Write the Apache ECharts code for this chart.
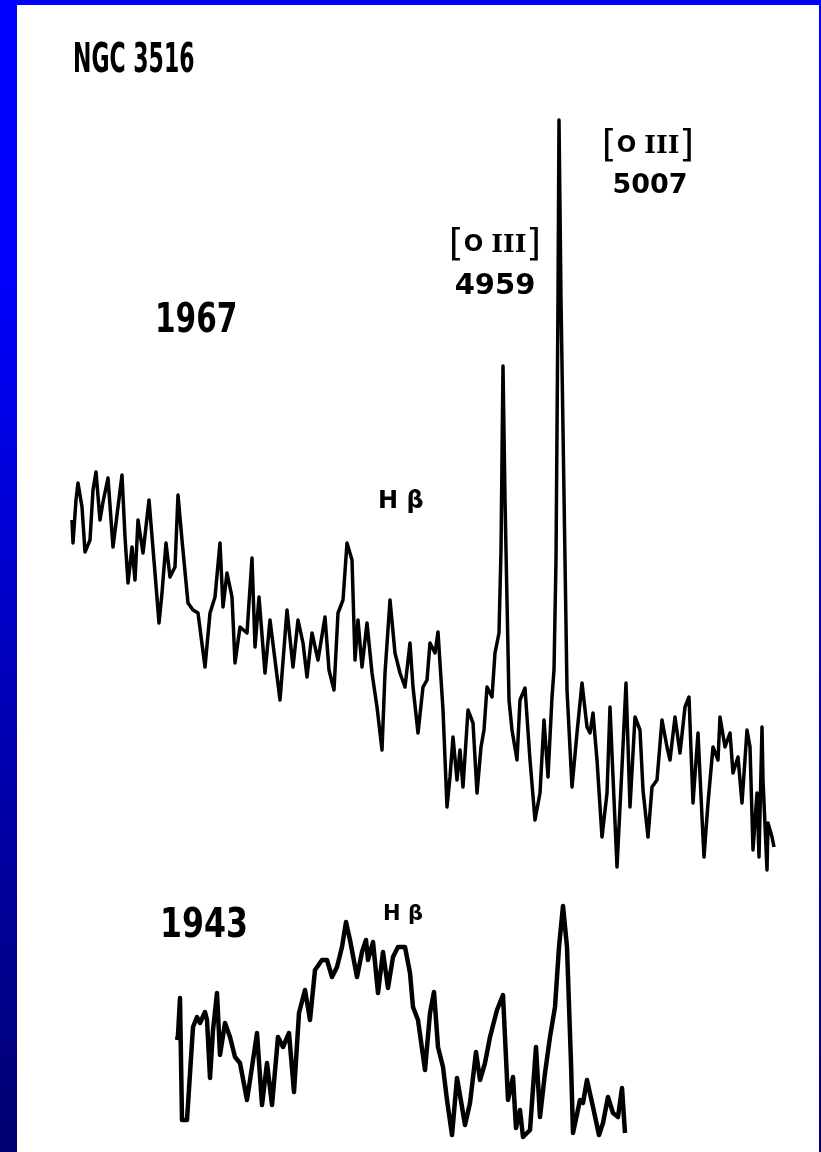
<!DOCTYPE html>
<html>
<head>
<meta charset="utf-8">
<script src="https://cdn.jsdelivr.net/npm/echarts@6/dist/echarts.min.js"></script>
<style>
html,body{margin:0;padding:0;width:821px;height:1152px;overflow:hidden;
  background:linear-gradient(to bottom,#0000ff 0%,#0000fa 25%,#000070 100%);}
#paper{position:absolute;left:17px;top:5px;width:802px;height:1147px;background:#ffffff;}
#chart{position:absolute;left:0;top:0;width:821px;height:1152px;}
</style>
</head>
<body>
<div id="paper"></div>
<div id="chart"></div>
<script>
// Tracing position (arbitrary units along the record) and relative intensity
const trace1967 = [
[0,360],[1,337],[4,380],[6,397],[10,373],[13,328],[18,340],[21,390],[24,408],[28,360],
[31,378],[36,402],[41,333],[46,373],[50,405],[53,343],[56,297],[60,333],[63,300],[66,360],
[71,327],[77,380],[83,307],[87,257],[90,287],[94,337],[98,303],[103,313],[106,385],[110,340],
[116,277],[121,270],[126,267],[133,213],[138,267],[143,283],[148,337],[151,273],[155,307],[160,283],
[163,217],[168,253],[175,247],[180,322],[183,233],[187,283],[193,207],[198,260],[203,220],[208,180],
[215,270],[221,213],[226,260],[231,237],[235,203],[240,247],[246,220],[253,263],[257,210],[262,190],
[266,267],[271,280],[275,337],[280,320],[283,220],[286,260],[290,213],[295,257],[300,207],[305,173],
[310,130],[313,207],[318,280],[323,227],[328,207],[333,193],[338,237],[341,193],[346,147],[351,193],
[355,200],[358,237],[363,227],[366,248],[371,170],[375,73],[378,103],[381,143],[385,100],[388,130],
[391,93],[396,170],[401,157],[405,87],[409,133],[412,150],[415,193],[420,183],[423,227],[427,247],
[429,330],[431,514],[433,380],[435,280],[437,180],[440,150],[445,120],[448,180],[453,192],[458,120],
[463,60],[468,87],[472,160],[476,103],[480,183],[482,210],[484,320],[486,580],[487,760],[489,580],
[493,320],[495,190],[500,93],[505,147],[510,197],[515,153],[518,147],[521,167],[525,120],[530,43],
[535,87],[538,173],[541,103],[545,13],[550,113],[554,197],[558,73],[563,163],[568,150],[571,90],
[576,43],[580,93],[585,100],[590,160],[595,133],[598,120],[603,163],[608,127],[613,173],[617,183],
[621,77],[626,147],[630,63],[632,23],[636,77],[641,133],[646,120],[648,163],[653,133],[658,147],
[661,107],[666,123],[670,77],[675,150],[678,133],[681,30],[685,87],[687,23],[690,153],[691,100],
[695,10],[696,57],[700,43],[702,33]
];

const trace1943 = [
[0,100],[1,105],[3,142],[5,20],[10,20],[16,113],[20,123],[23,117],[28,128],[30,120],
[33,62],[36,110],[40,147],[43,85],[48,117],[53,103],[58,83],[63,77],[70,40],[75,73],
[80,107],[85,35],[90,77],[95,35],[101,103],[106,93],[112,107],[117,48],[122,127],[128,150],
[133,120],[138,170],[145,180],[150,180],[155,163],[160,173],[165,193],[169,218],[173,200],[180,163],
[185,188],[189,200],[191,180],[196,198],[201,147],[206,188],[211,152],[216,183],[221,193],[228,193],
[233,167],[236,133],[241,120],[248,70],[253,127],[257,148],[261,93],[266,73],[270,40],[275,5],
[280,62],[285,33],[288,15],[293,37],[299,88],[303,60],[308,77],[313,103],[320,130],[326,145],
[331,40],[336,63],[339,12],[343,30],[346,3],[353,10],[359,93],[363,23],[368,67],[373,103],
[378,133],[382,193],[386,234],[390,193],[394,77],[396,7],[403,40],[406,37],[410,60],[416,33],
[422,5],[426,17],[431,43],[436,27],[441,23],[445,52],[448,7]
];

const titleText = 'NGC 3516';
const yearLabels = ['1967', '1943'];
const lineName = '[O III]';
const lineWavelengths = ['4959', '5007'];
const hbetaLabel = 'H β';

const chart = echarts.init(document.getElementById('chart'), null, {renderer: 'canvas'});

function oiii(cx, cy) {
  return {
    type: 'text', x: cx, y: cy, z: 10,
    style: {
      text: '{br|[}{o|O }{r|III}{br|]}',
      align: 'center', verticalAlign: 'middle', fill: '#000',
      rich: {
        br: {font: 'normal 38px "DejaVu Sans"', fill: '#000', verticalAlign: 'middle'},
        o: {font: 'bold 23px "DejaVu Sans"', fill: '#000', verticalAlign: 'middle'},
        r: {font: 'bold 25px "DejaVu Serif"', fill: '#000', verticalAlign: 'middle'}
      }
    }
  };
}

const option = {
  animation: false,
  backgroundColor: 'transparent',
  grid: [
    {left: 72, top: 80, width: 703, height: 800},
    {left: 177, top: 900, width: 456, height: 240}
  ],
  xAxis: [
    {type: 'value', gridIndex: 0, min: 0, max: 703, show: false},
    {type: 'value', gridIndex: 1, min: 0, max: 456, show: false}
  ],
  yAxis: [
    {type: 'value', gridIndex: 0, min: 0, max: 800, show: false},
    {type: 'value', gridIndex: 1, min: 0, max: 240, show: false}
  ],
  series: [
    {
      name: yearLabels[0], type: 'line', xAxisIndex: 0, yAxisIndex: 0,
      data: trace1967, showSymbol: false, symbol: 'none', clip: false,
      lineStyle: {color: '#000', width: 3.5, join: 'round'}
    },
    {
      name: yearLabels[1], type: 'line', xAxisIndex: 1, yAxisIndex: 1,
      data: trace1943, showSymbol: false, symbol: 'none', clip: false,
      lineStyle: {color: '#000', width: 4.5, join: 'round'}
    }
  ],
  graphic: [
    {type: 'text', x: 73, y: 62, scaleX: 0.55,
      style: {text: titleText, font: 'bold 40px "DejaVu Sans"', fill: '#000', align: 'left', verticalAlign: 'middle'}},
    {type: 'text', x: 155, y: 322, scaleX: 0.74,
      style: {text: yearLabels[0], font: 'bold 40px "DejaVu Sans"', fill: '#000', align: 'left', verticalAlign: 'middle'}},
    {type: 'text', x: 160, y: 927, scaleX: 0.79,
      style: {text: yearLabels[1], font: 'bold 40px "DejaVu Sans"', fill: '#000', align: 'left', verticalAlign: 'middle'}},
    {type: 'text', x: 378, y: 502,
      style: {text: hbetaLabel, font: 'bold 24px "DejaVu Sans"', fill: '#000', align: 'left', verticalAlign: 'middle'}},
    {type: 'text', x: 383, y: 915,
      style: {text: hbetaLabel, font: 'bold 21px "DejaVu Sans"', fill: '#000', align: 'left', verticalAlign: 'middle'}},
    oiii(648, 146),
    {type: 'text', x: 650, y: 186,
      style: {text: lineWavelengths[1], font: 'bold 27px "DejaVu Sans"', fill: '#000', align: 'center', verticalAlign: 'middle'}},
    oiii(495, 245),
    {type: 'text', x: 495, y: 286,
      style: {text: lineWavelengths[0], font: 'bold 29px "DejaVu Sans"', fill: '#000', align: 'center', verticalAlign: 'middle'}}
  ]
};
chart.setOption(option);
</script>
</body>
</html>
